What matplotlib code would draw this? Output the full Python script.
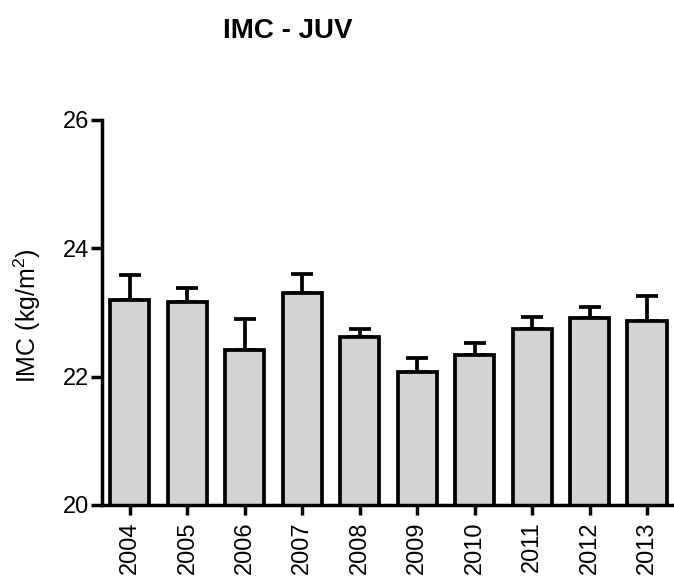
import matplotlib
matplotlib.use('Agg')
import matplotlib.pyplot as plt
import numpy as np

# IMC por ano (media e erro padrao, so barra superior)
years = ['2004', '2005', '2006', '2007', '2008', '2009', '2010', '2011', '2012', '2013']
means = [23.19, 23.16, 22.42, 23.30, 22.61, 22.07, 22.33, 22.75, 22.91, 22.86]
errors = [0.40, 0.22, 0.48, 0.30, 0.13, 0.22, 0.19, 0.18, 0.18, 0.39]
yticks = [20, 22, 24, 26]

plt.rcParams['font.family'] = ['Liberation Sans', 'DejaVu Sans']
plt.rcParams['mathtext.fontset'] = 'custom'
plt.rcParams['mathtext.rm'] = 'Liberation Sans'

fig = plt.figure(figsize=(6.74, 5.88), dpi=100)
ax = fig.add_axes([0.151, 0.1412, 0.849, 0.6548])

lw = 2.7
x = np.arange(len(years))
ax.bar(x, means, width=0.68, color='#d3d3d3', edgecolor='black', linewidth=lw, zorder=2)
ax.errorbar(x, means, yerr=[np.zeros(len(errors)), errors], fmt='none',
            ecolor='black', elinewidth=lw, capsize=8, capthick=lw, zorder=1)

ax.set_xlim(-0.49, 9.47)
ax.set_ylim(20, 26)
ax.set_yticks(yticks)
ax.set_xticks(x)
ax.set_xticklabels(years, rotation=90)

for s in ['top', 'right']:
    ax.spines[s].set_visible(False)
for s in ['left', 'bottom']:
    ax.spines[s].set_linewidth(2.5)

ax.tick_params(axis='y', length=8, width=2.5, labelsize=17, pad=1)
ax.tick_params(axis='x', length=7, width=2.5, labelsize=17, pad=5)

fig.text(0.04, 0.463, r'IMC (kg/m$\mathregular{^2}$)', rotation=90,
         ha='center', va='center', fontsize=18)
fig.text(0.427, 0.947, 'IMC - JUV', ha='center', va='center',
         fontsize=20, fontweight='bold')

fig.savefig('out.png', dpi=100)
